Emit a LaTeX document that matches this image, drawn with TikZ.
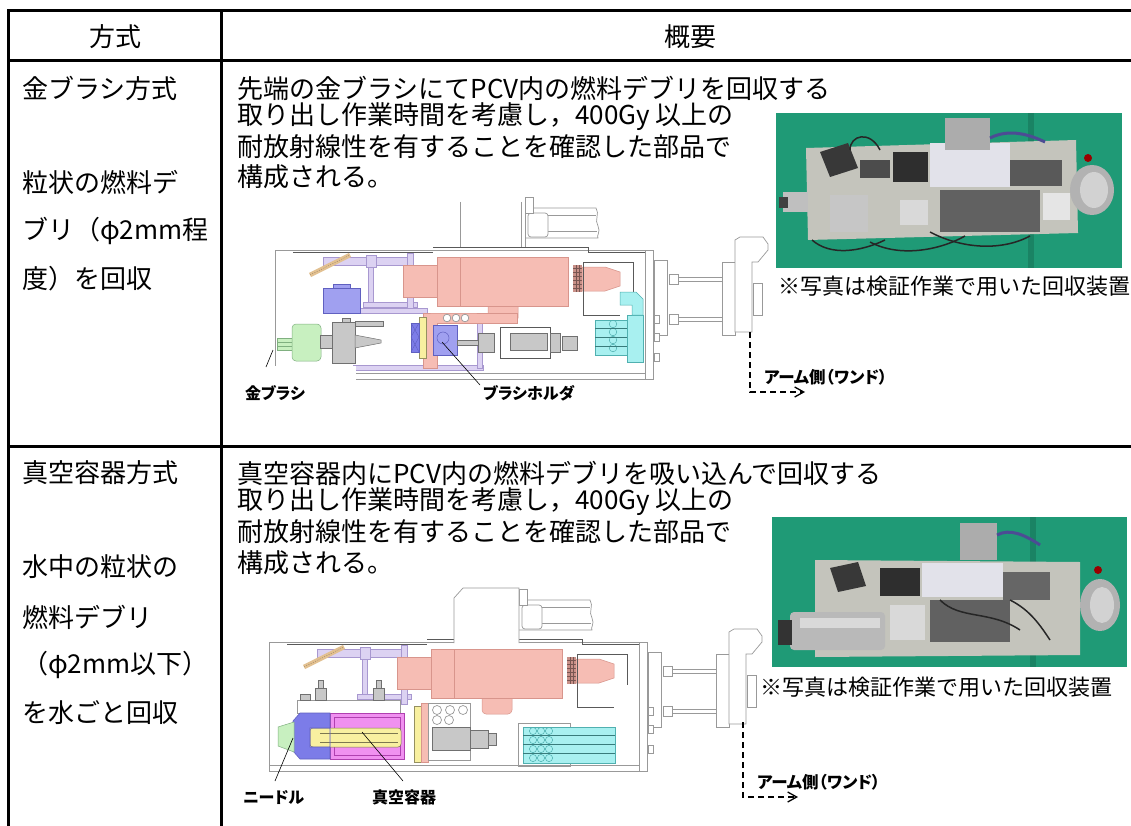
\documentclass[tikz,border=0pt]{standalone}
\usepackage{fontspec}
\setmainfont{Noto Sans CJK JP}
\newfontfamily\lblfont{Noto Sans CJK JP}[RawFeature=+palt]
\usetikzlibrary{arrows.meta}
\definecolor{lavF}{HTML}{DCD2F2}
\definecolor{lavD}{HTML}{A898D0}
\definecolor{salF}{HTML}{F6BDB4}
\definecolor{salD}{HTML}{D8958C}
\definecolor{bluF}{HTML}{A0A0F0}
\definecolor{bluD}{HTML}{6060C0}
\definecolor{bluG}{HTML}{7C7CE8}
\definecolor{grnF}{HTML}{C8F0C0}
\definecolor{grnD}{HTML}{80B080}
\definecolor{gryF}{HTML}{C8C8C8}
\definecolor{gryD}{HTML}{707070}
\definecolor{cyaF}{HTML}{A8F0F0}
\definecolor{cyaD}{HTML}{50B0B0}
\definecolor{yelF}{HTML}{F8F0A0}
\definecolor{tanF}{HTML}{E2C090}
\definecolor{magF}{HTML}{F090F0}
\definecolor{magD}{HTML}{B040B0}
\definecolor{photoG}{HTML}{1F9A76}
\definecolor{plateC}{HTML}{C4C4BC}
\definecolor{silvC}{HTML}{E2E2EA}
\definecolor{connC}{HTML}{C89088}
\newcommand\devcommon{%
  \draw[frm] (275,250) rectangle (653,379);
  \draw[frm] (645,250) -- (645,379);
  \draw[frm] (275,373) -- (645,373);
  \draw[dk] (293,252) -- (433,252);
  \draw[dk] (433,247) -- (588,247) -- (588,252) -- (645,252);
  % cylinders beside the tower
  \draw[frm,fill=white] (525,208) -- (596,208) .. controls (600,214) and (594,220) .. (598,226) .. controls (601,232) and (596,236) .. (598,238) -- (525,238);
  \draw[frm] (548,215) -- (596,215);
  \draw[frm] (548,231) -- (597,231);
  \draw[frm,fill=white,rounded corners=3pt] (528,213) rectangle (548,237);
  \draw[frm,fill=white] (525,197) rectangle (533,213);
  % lavender structure
  \draw[lav] (323,257) rectangle (413,265);
  \draw[lav] (368,265) rectangle (373,307);
  \draw[lav] (363,302) rectangle (417,307);
  \draw[lav] (407,253) rectangle (413,312);
  \draw[lav] (366,255) rectangle (376,267);
  % tan bar
  \draw[line width=4.5pt,tanF] (310,275) -- (350,255);
  \draw[line width=0.4pt,draw=tanF!60!black,dash pattern=on 1pt off 1.5pt] (310,275) -- (350,255);
  % salmon body
  \draw[sal] (403,265) rectangle (437,297);
  \draw[sal,rounded corners=4pt] (488,300) -- (488,322) -- (518,322) -- (518,300);
  \draw[sal] (437,257) rectangle (568,306);
  \draw[salD] (460,257) -- (460,306);
  % nozzle
  \fill[connC] (573,265) rectangle (582,292);
  \foreach \yy in {268,272,...,290} \draw[connC!60!black,line width=0.4pt] (573,\yy) -- (582,\yy);
  \foreach \xx in {576,579} \draw[connC!60!black,line width=0.4pt] (\xx,265) -- (\xx,292);
  \draw[sal] (582,267) -- (605,267) -- (620,272) -- (620,286) -- (605,291) -- (582,291) -- cycle;
  \draw[dk] (583,315) -- (583,262) -- (633,262) -- (633,293);
  \draw[dk] (583,315) -- (620,315);
  % right side flanges
  \draw[frm,fill=white] (654,260) rectangle (667,335);
  \foreach \yy in {315,333,353} \draw[frm,fill=white] (654,\yy) rectangle (659,\yy+8);
  \draw[frm,fill=white] (669,274) rectangle (678,284);
  \draw[frm,fill=white] (669,314) rectangle (678,324);
  \draw[frm] (678,277) -- (722,277);
  \draw[frm] (678,281) -- (722,281);
  \draw[frm] (678,317) -- (722,317);
  \draw[frm] (678,321) -- (722,321);
  \draw[frm,fill=white] (722,262) rectangle (735,335);
  \draw[frm,fill=white] (735,262) -- (735,240) -- (740,237) -- (763,237) -- (768,244) -- (768,250) -- (758,262) -- (752,262) -- (752,332) -- (735,332) -- cycle;
  \draw[frm,fill=white] (753,283) rectangle (762,315);
}
\begin{document}
\begin{tikzpicture}[x=1pt,y=-1pt,
  tline/.style={line width=3pt,draw=black},
  txt/.style={inner sep=0pt,anchor=west,font=\fontsize{26}{26}\selectfont},
  hdr/.style={inner sep=0pt,font=\fontsize{26}{26}\selectfont},
  captxt/.style={inner sep=0pt,anchor=west,font=\fontsize{22}{22}\selectfont},
  lbl/.style={inner sep=0pt,anchor=west,font=\lblfont\bfseries\fontsize{16}{16}\selectfont},
  armlbl/.style={inner sep=0pt,anchor=west,font=\lblfont\bfseries\fontsize{16.5}{16.5}\selectfont},
  frm/.style={draw=black!40,line width=0.7pt},
  dk/.style={draw=black!65,line width=0.6pt},
  lav/.style={fill=lavF,draw=lavD,line width=0.5pt},
  sal/.style={fill=salF,draw=salD,line width=0.5pt},
  blu/.style={fill=bluF,draw=bluD,line width=0.5pt},
  grn/.style={fill=grnF,draw=grnD,line width=0.5pt},
  gry/.style={fill=gryF,draw=gryD,line width=0.5pt},
  cya/.style={fill=cyaF,draw=cyaD,line width=0.5pt},
  yel/.style={fill=yelF,draw=yelF!60!black,line width=0.5pt},
  mag/.style={fill=magF,draw=magD,line width=0.6pt},
  leader/.style={draw=black,line width=0.6pt},
  armarrow/.style={draw=black,line width=1.3pt,dash pattern=on 6pt off 4pt,-{Straight Barb[length=9pt,width=10pt,line width=1.3pt]}},
  cable/.style={draw=black!85,line width=1.5pt}]
\useasboundingbox (0,0) rectangle (1131,826);
\fill[white] (0,0) rectangle (1131,826);

% ================= drawing 1 =================
\devcommon
\draw[frm] (460,202) -- (460,247);
\draw[frm] (521,202) -- (521,247);
\draw[frm] (525,202) -- (525,247);
\draw[lav] (323,308) rectangle (427,313);
\draw[blu] (333,284) rectangle (350,289);
\draw[blu] (323,288) rectangle (360,313);
\draw[lav] (353,365) rectangle (483,370);
\draw[lav] (477,322) rectangle (482,368);
\draw[sal] (437,313) -- (517,313) -- (517,323) -- (437,323) -- (437,368) -- (423,368) -- (423,313) -- cycle;
\foreach \xx in {447,456,465} \draw[frm,fill=white] (\xx,318) circle (3.8);
\draw[yel] (419,317) rectangle (426,358);
\draw[fill=bluG,draw=bluD,line width=0.5pt] (411,323) rectangle (419,352);
\draw[bluD,line width=0.4pt] (411,323) -- (419,337) -- (411,352);
\draw[bluD,line width=0.4pt] (419,323) -- (411,337) -- (419,352);
\draw[blu] (433,325) rectangle (457,355);
\draw[bluD,line width=0.5pt] (443,338) circle (6);
\draw[gry] (457,340) rectangle (478,345);
\draw[gry] (478,333) rectangle (494,352);
\draw[dk] (500,327) rectangle (550,358);
\draw[gry] (510,333) rectangle (547,350);
\draw[gry] (550,333) rectangle (560,352);
\draw[gry] (562,336) rectangle (577,350);
\draw[grn] (277,338) rectangle (293,350);
\draw[grnD,line width=0.4pt] (277,342) -- (293,342);
\draw[grnD,line width=0.4pt] (277,346) -- (293,346);
\draw[grn,rounded corners=4pt] (292,324) rectangle (321,361);
\draw[gry] (320,335) rectangle (332,348);
\draw[gry] (332,322) rectangle (355,363);
\draw[gry] (355,335) -- (381,340) -- (381,343) -- (355,348) -- cycle;
\draw[gry] (355,321) rectangle (383,326);
\draw[gry] (342,318) rectangle (350,322);
\draw[cya] (595,320) rectangle (627,355);
\foreach \yy in {324,332,340,348} \draw[cyaD,line width=0.5pt] (613,\yy) circle (3.8);
\foreach \yy in {328,337,346} \draw[cyaD!70!black,line width=0.5pt] (595,\yy) -- (627,\yy);
\draw[cya] (627,315) rectangle (643,362);
\draw[cya] (620,305) -- (620,292) -- (636,292) -- (643,299) -- (643,315) -- (632,315) -- (632,305) -- cycle;
\fill[white] (258,366) rectangle (356,402);
\coordinate (k1a) at (273,350);
\coordinate (k1b) at (266,367);
\draw[leader] (k1a) -- (k1b);
\coordinate (h1a) at (442,342);
\coordinate (h1b) at (480,385);
\draw[leader] (h1a) -- (h1b);
\node[lbl] (l1a) at (245,393) {金ブラシ};
\node[lbl] (l1b) at (483,393) {ブラシホルダ};
\node[armlbl] (arm1) at (764,377) {アーム側（ワンド）};
\coordinate (a1s) at (750,332);
\coordinate (a1c) at (750,392);
\coordinate (a1e) at (805,392);
\draw[armarrow] (a1s) -- (a1c) -- (a1e);

% ================= drawing 2 =================
\begin{scope}[shift={(-6,392)}]
\devcommon
\end{scope}
\draw[frm,fill=white] (454,643) -- (454,598) -- (463,588) -- (519,588) -- (519,643);
\draw[frm,fill=white] (297,700) rectangle (400,713);
\draw[gry] (315,688) rectangle (326,700);
\draw[gry] (318,680) rectangle (323,688);
\draw[gry] (373,688) rectangle (384,700);
\draw[gry] (376,680) rectangle (381,688);
\draw[gry] (300,694) rectangle (310,700);
\draw[mag] (330,713) rectangle (404,759);
\draw[magD,line width=0.5pt] (334,717) rectangle (400,755);
\draw[fill=yelF,draw=yelF!50!black,line width=0.5pt,rounded corners=3pt] (310,728) rectangle (401,747);
\draw[yelF!50!black,line width=0.4pt] (320,733) -- (398,733);
\draw[yelF!50!black,line width=0.4pt] (320,742) -- (398,742);
\draw[fill=bluG,draw=bluD,line width=0.6pt,even odd rule] (300,713) -- (330,713) -- (330,759) -- (300,759) -- (293,751) -- (293,721) -- cycle (310,728) rectangle (330,747);
\draw[grn] (278,727) -- (294,722) -- (294,752) -- (278,746) -- cycle;
\draw[yel] (414,706) rectangle (421,762);
\draw[sal] (421,703) rectangle (428,762);
\draw[frm,fill=white] (428,703) rectangle (470,760);
\foreach \xx in {437,450,463} \draw[frm] (\xx,710) circle (4.5);
\foreach \xx in {437,449} \draw[frm] (\xx,720) circle (4.5);
\draw[gry] (432,727) rectangle (470,750);
\draw[gry] (470,730) rectangle (488,748);
\draw[gry] (488,733) rectangle (496,745);
\draw[frm] (518,723) rectangle (570,766);
\draw[cya] (523,727) rectangle (615,763);
\foreach \yy in {731,740,749,758} {
  \foreach \xx in {533,541,549} \draw[cyaD,line width=0.5pt] (\xx,\yy) circle (3.6);
}
\foreach \yy in {735.5,744.5,753.5} \draw[cyaD!70!black,line width=0.5pt] (523,\yy) -- (615,\yy);
\coordinate (k2a) at (293,738);
\coordinate (k2b) at (275,781);
\draw[leader] (k2a) -- (k2b);
\coordinate (h2a) at (362,732);
\coordinate (h2b) at (403,781);
\draw[leader] (h2a) -- (h2b);
\node[lbl] (l2a) at (243,797) {ニードル};
\node[lbl] (l2b) at (372,797) {真空容器};
\node[armlbl] (arm2) at (757,782) {アーム側（ワンド）};
\coordinate (a2s) at (743,722);
\coordinate (a2c) at (743,797);
\coordinate (a2e) at (798,797);
\draw[armarrow] (a2s) -- (a2c) -- (a2e);

% ================= photo 1 =================
\begin{scope}
\clip (776,113) rectangle (1122,268);
\fill[photoG] (776,113) rectangle (1122,268);
\fill[photoG!85!black] (1028,113) rectangle (1034,268);
\fill[plateC] (806,148) -- (1076,140) -- (1078,233) -- (808,240) -- cycle;
\fill[black!78] (820,152) -- (848,143) -- (858,168) -- (830,177) -- cycle;
\fill[black!70] (860,160) rectangle (890,178);
\fill[black!82] (893,152) rectangle (928,182);
\fill[silvC] (930,143) rectangle (1010,187);
\fill[gray!65] (945,118) rectangle (990,150);
\fill[black!65] (1010,160) rectangle (1062,186);
\fill[black!62] (940,190) rectangle (1040,232);
\fill[gray!45] (830,195) rectangle (868,232);
\fill[gray!30] (900,200) rectangle (928,225);
\fill[gray!20] (1043,193) rectangle (1070,220);
\fill[gray!60] (1092,190) ellipse [x radius=22,y radius=25];
\fill[gray!35] (1094,190) ellipse [x radius=14,y radius=18];
\fill[gray!50] (783,192) rectangle (808,212);
\fill[black!75] (779,197) rectangle (788,208);
\fill[red!60!black] (1088,158) circle (4);
\draw[blue!40!black!70,line width=3pt] (990,138) .. controls (1010,128) and (1030,135) .. (1045,142);
\draw[cable] (812,240) .. controls (830,256) and (860,252) .. (885,240);
\draw[cable] (870,242) .. controls (900,258) and (940,250) .. (965,236);
\draw[cable] (930,232) .. controls (960,248) and (1000,252) .. (1030,236);
\draw[cable] (850,150) .. controls (850,135) and (870,130) .. (880,150);
\end{scope}
\node[captxt] (cap1) at (778,286) {※写真は検証作業で用いた回収装置};

% ================= photo 2 =================
\begin{scope}
\clip (772,517) rectangle (1127,667);
\fill[photoG] (772,517) rectangle (1127,667);
\fill[photoG!85!black] (1030,517) rectangle (1036,667);
\fill[plateC] (815,560) -- (1080,562) -- (1080,655) -- (815,657) -- cycle;
\fill[black!78] (830,568) -- (858,562) -- (866,586) -- (838,592) -- cycle;
\fill[black!82] (880,568) rectangle (920,596);
\fill[silvC] (922,563) rectangle (1003,597);
\fill[gray!65] (960,523) rectangle (997,560);
\fill[black!60] (1003,572) rectangle (1050,600);
\fill[black!62] (930,600) rectangle (1010,642);
\fill[gray!30] (890,605) rectangle (925,640);
\fill[gray!55,rounded corners=4pt] (790,612) rectangle (885,650);
\fill[gray!30] (800,618) rectangle (880,628);
\fill[black!80] (778,620) rectangle (792,645);
\fill[gray!60] (1100,605) ellipse [x radius=20,y radius=26];
\fill[gray!35] (1102,605) ellipse [x radius=12,y radius=18];
\fill[red!60!black] (1098,570) circle (4);
\draw[blue!40!black!70,line width=3pt] (997,535) .. controls (1010,528) and (1025,535) .. (1040,545);
\draw[cable] (940,600) .. controls (960,620) and (990,610) .. (1020,630);
\draw[cable] (1010,600) .. controls (1030,610) and (1040,625) .. (1050,640);
\end{scope}
\node[captxt] (cap2) at (760,687) {※写真は検証作業で用いた回収装置};

% ================= table text =================
\node[hdr] (h1) at (115,37) {方式};
\node[hdr] (h2) at (690,37) {概要};
\node[txt] (r1a) at (22,88) {金ブラシ方式};
\node[txt] (r1b) at (22,182) {粒状の燃料デ};
\node[txt] (r1c) at (22,231) {ブリ（φ2mm程};
\node[txt] (r1d) at (22,279) {度）を回収};
\node[txt] (s1a) at (237,88) {先端の金ブラシにてPCV内の燃料デブリを回収する};
\node[txt] (s1b) at (237,117) {取り出し作業時間を考慮し，400Gy 以上の};
\node[txt] (s1c) at (237,147) {耐放射線性を有することを確認した部品で};
\node[txt] (s1d) at (237,177) {構成される。};
\node[txt] (r2a) at (22,473) {真空容器方式};
\node[txt] (r2b) at (22,567) {水中の粒状の};
\node[txt] (r2c) at (22,617) {燃料デブリ};
\node[txt] (r2d) at (22,665) {（φ2mm以下）};
\node[txt] (r2e) at (22,713) {を水ごと回収};
\node[txt] (s2a) at (237,473) {真空容器内にPCV内の燃料デブリを吸い込んで回収する};
\node[txt] (s2b) at (237,502) {取り出し作業時間を考慮し，400Gy 以上の};
\node[txt] (s2c) at (237,532) {耐放射線性を有することを確認した部品で};
\node[txt] (s2d) at (237,563) {構成される。};

% ================= table lines =================
\draw[tline] (1131,11) -- (8,11) -- (8,826);
\draw[tline] (8,61) -- (1131,61);
\draw[tline] (8,446) -- (1131,446);
\draw[tline] (221,11) -- (221,826);
\end{tikzpicture}
\end{document}
